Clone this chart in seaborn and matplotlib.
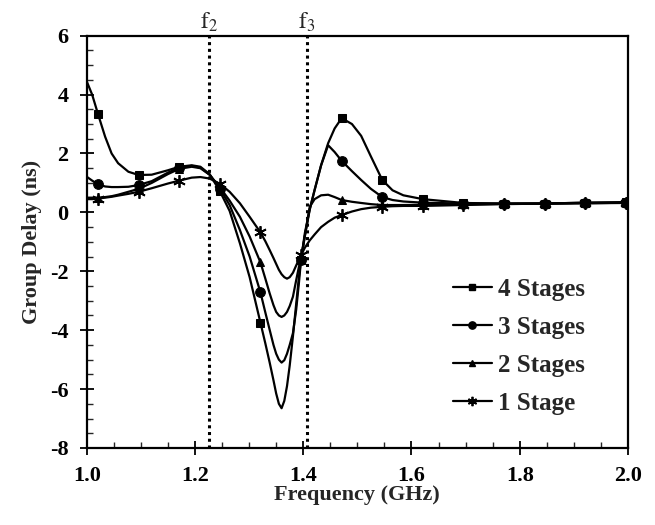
import matplotlib
matplotlib.use("Agg")
import matplotlib.pyplot as plt
from matplotlib.lines import Line2D
from matplotlib.ticker import MultipleLocator
import seaborn as sns
import pandas as pd

freq = [1.000, 1.010, 1.021, 1.034, 1.046, 1.058, 1.077, 1.096, 1.120, 1.150,
        1.171, 1.194, 1.210, 1.227, 1.246, 1.264, 1.283, 1.301, 1.321, 1.330,
        1.338, 1.345, 1.350, 1.355, 1.360, 1.365, 1.370, 1.375, 1.381, 1.387,
        1.392, 1.396, 1.403, 1.412, 1.421, 1.433, 1.446, 1.458, 1.471, 1.490,
        1.507, 1.525, 1.546, 1.565, 1.585, 1.621, 1.696, 1.771, 1.846, 1.921,
        1.996]

stages4 = [4.45, 4.00, 3.33, 2.57, 2.00, 1.67, 1.38, 1.27, 1.28, 1.43,
           1.55, 1.60, 1.55, 1.30, 0.72, 0.05, -1.05, -2.20, -3.75, -4.45,
           -5.10, -5.70, -6.15, -6.50, -6.65, -6.40, -5.90, -5.20, -4.20, -3.10,
           -2.20, -1.60, -0.80, 0.10, 0.76, 1.60, 2.35, 2.85, 3.20, 3.00,
           2.60, 1.90, 1.10, 0.75, 0.58, 0.45, 0.32, 0.30, 0.30, 0.33,
           0.35]
stages3 = [1.21, 1.08, 0.95, 0.88, 0.86, 0.86, 0.87, 0.93, 1.06, 1.35,
           1.52, 1.58, 1.52, 1.28, 0.80, 0.25, -0.60, -1.50, -2.72, -3.40,
           -3.99, -4.50, -4.80, -5.00, -5.10, -5.02, -4.80, -4.50, -4.10, -3.30,
           -2.40, -1.60, -0.70, 0.10, 0.76, 1.60, 2.28, 2.05, 1.75, 1.40,
           1.10, 0.80, 0.52, 0.42, 0.37, 0.33, 0.30, 0.30, 0.30, 0.33,
           0.33]
stages2 = [0.50, 0.50, 0.50, 0.52, 0.55, 0.60, 0.70, 0.80, 1.00, 1.30,
           1.48, 1.55, 1.50, 1.28, 0.85, 0.40, -0.15, -0.82, -1.70, -2.25,
           -2.75, -3.15, -3.38, -3.50, -3.55, -3.50, -3.38, -3.18, -2.86, -2.30,
           -1.85, -1.55, -0.80, 0.19, 0.45, 0.58, 0.60, 0.52, 0.42, 0.36,
           0.32, 0.28, 0.25, 0.25, 0.25, 0.26, 0.28, 0.29, 0.30, 0.31,
           0.33]
stages1 = [0.45, 0.45, 0.47, 0.50, 0.53, 0.57, 0.63, 0.70, 0.82, 0.98,
           1.08, 1.18, 1.20, 1.15, 0.97, 0.70, 0.31, -0.15, -0.68, -0.98,
           -1.28, -1.55, -1.75, -1.95, -2.10, -2.20, -2.25, -2.20, -2.05, -1.80,
           -1.60, -1.45, -1.20, -0.95, -0.75, -0.50, -0.32, -0.18, -0.09, 0.03,
           0.11, 0.16, 0.19, 0.21, 0.22, 0.22, 0.25, 0.28, 0.30, 0.31,
           0.32]

marker_freqs = [1.021, 1.096, 1.171, 1.246, 1.321, 1.396, 1.471, 1.546,
                1.621, 1.696, 1.771, 1.846, 1.921, 1.996]
series_names = ["4 Stages", "3 Stages", "2 Stages", "1 Stage"]
f_lines = [1.226, 1.407]
f_labels = [r"$\mathrm{f}_2$", r"$\mathrm{f}_3$"]

sns.set_style("ticks")
plt.rcParams["font.family"] = ["Liberation Serif", "DejaVu Serif"]
plt.rcParams["mathtext.fontset"] = "stix"

fig = plt.figure(figsize=(6.55, 5.25), dpi=100)
ax = fig.add_axes([0.1324, 0.1467, 0.8264, 0.7853])

mark_idx = [freq.index(m) for m in marker_freqs]
styles = [
    dict(marker="s", markersize=6),
    dict(marker="o", markersize=7),
    dict(marker="^", markersize=6),
    dict(marker=(6, 2, 0), markersize=9, markeredgewidth=1.3),
]
values = [stages4, stages3, stages2, stages1]
for name, vals, st in zip(series_names, values, styles):
    df = pd.DataFrame({"Frequency": freq, "Delay": vals})
    sns.lineplot(data=df, x="Frequency", y="Delay", ax=ax, color="black",
                 linewidth=1.6, sort=False, markevery=mark_idx,
                 markerfacecolor="black", markeredgecolor="black", **st)

for fx, lab in zip(f_lines, f_labels):
    ax.axvline(fx, color="black", linestyle=(0, (1, 1.2)), linewidth=2.2)
    ax.text(fx, 6.05, lab, ha="center", va="bottom", fontsize=17)

ax.set_xlim(1.0, 2.0)
ax.set_ylim(-8, 6)
ax.xaxis.set_minor_locator(MultipleLocator(0.05))
ax.yaxis.set_minor_locator(MultipleLocator(0.5))
ax.set_xticks([1.0, 1.2, 1.4, 1.6, 1.8, 2.0])
ax.set_xticklabels(["1.0", "1.2", "1.4", "1.6", "1.8", "2.0"])
ax.set_yticks([-8, -6, -4, -2, 0, 2, 4, 6])
ax.set_yticklabels(["-8", "-6", "-4", "-2", "0", "2", "4", "6"])
ax.tick_params(which="major", direction="inout", length=10, width=1.3,
               labelsize=16, pad=8, top=False, right=False, colors="black")
ax.tick_params(which="minor", direction="in", length=4, width=1.0,
               top=False, right=False)
for lbl in ax.get_xticklabels() + ax.get_yticklabels():
    lbl.set_fontweight("bold")
for sp in ax.spines.values():
    sp.set_visible(True)
    sp.set_color("black")
    sp.set_linewidth(1.6)

ax.set_xlabel("Frequency (GHz)", fontsize=16, fontweight="bold", labelpad=-1)
ax.set_ylabel("Group Delay (ns)", fontsize=16, fontweight="bold", labelpad=6)

handles = [Line2D([0], [0], color="black", linewidth=1.6, marker=st["marker"],
                  markersize=st["markersize"] * 0.75,
                  markeredgewidth=st.get("markeredgewidth", 1.0),
                  markerfacecolor="black", markeredgecolor="black")
           for st in styles]
leg = ax.legend(handles, series_names, loc="lower right",
                bbox_to_anchor=(0.962, 0.025), frameon=False,
                prop={"family": "Liberation Serif", "weight": "bold", "size": 18},
                handlelength=1.55, handletextpad=0.25, labelspacing=0.6)

fig.savefig("out.png", dpi=100)
